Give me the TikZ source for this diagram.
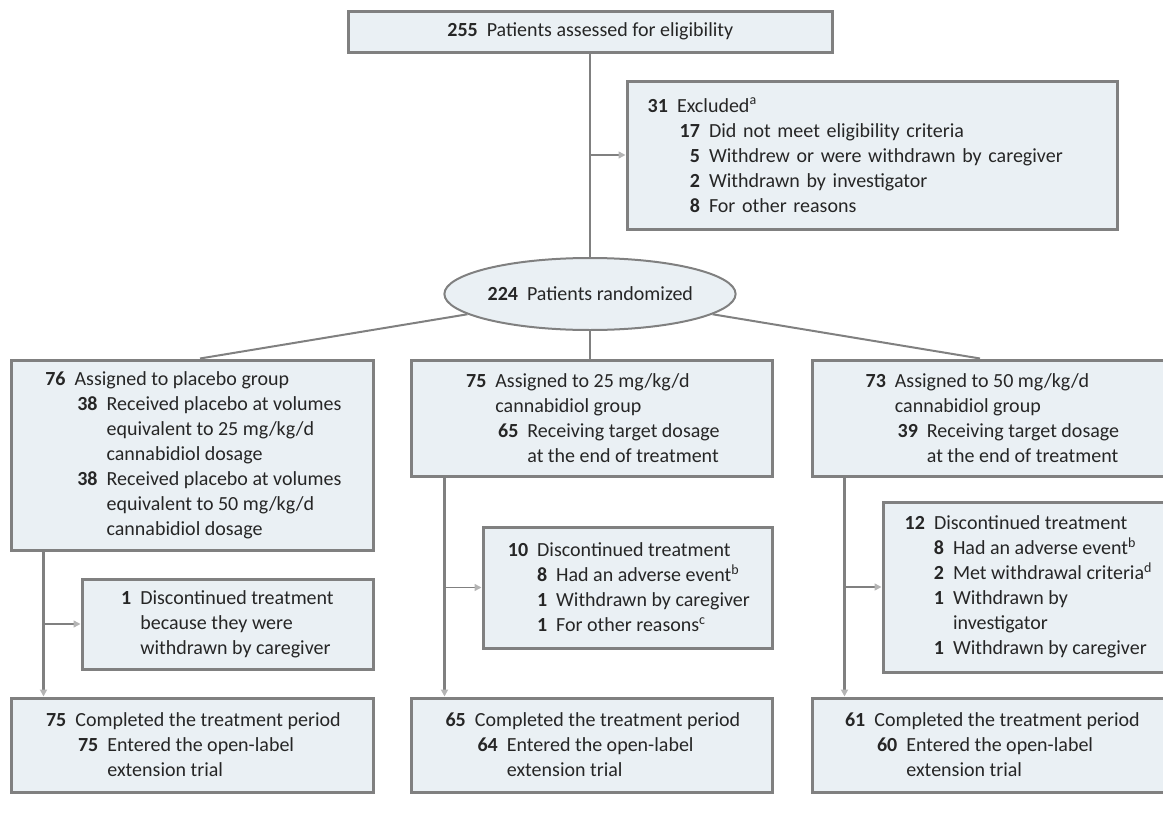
\documentclass[tikz,border=0pt]{standalone}
\usepackage{fontspec}
\setmainfont{Carlito}
\usetikzlibrary{arrows.meta, shapes.geometric}

\definecolor{boxfill}{HTML}{EAF0F4}
\definecolor{boxline}{HTML}{808080}
\definecolor{tipgray}{HTML}{B4B4B4}

% count column, then the entry text
\newcommand{\nm}[2][1.15em]{\makebox[#1][r]{\bfseries #2}\hspace{0.45em}}
\newcommand{\sub}{\hspace*{1.6em}}

\begin{document}
\begin{tikzpicture}[
            x = 1pt, y = -1pt,
            stepbox/.style = {
                rectangle,
                draw       = boxline,
                line width = 3pt,
                fill       = boxfill,
                align      = left,
                text       = black!85,
                font       = \fontsize{20}{25}\selectfont,
                inner sep  = 0pt
            },
            link/.style = {draw = boxline, line width = 2.5pt},
            flow/.style = {link, -{Triangle[length=7pt, width=7pt, color=tipgray]}},
            side/.style = {draw = boxline, line width = 1.5pt,
                           -{Triangle[length=7pt, width=7pt, color=tipgray]}}
        ]

            \useasboundingbox (0,0) rectangle (1163,814);

            \node[stepbox, align = center, minimum width = 484pt, minimum height = 41pt]
                (elig) at (590,31.5) {\nm[1.55em]{255}Patients assessed for eligibility};
            \node[stepbox, text width = 454pt, inner xsep = 18pt, minimum height = 148pt]
                (excl) at (872,155) {
                \nm{31}Excluded\textsuperscript{a}\\
                \sub\nm{17}Did not meet eligibility criteria\\
                \sub\nm{5}Withdrew or were withdrawn by caregiver\\
                \sub\nm{2}Withdrawn by investigator\\
                \sub\nm{8}For other reasons
            };
            \node[stepbox, ellipse, line width = 2pt, minimum width = 283pt, minimum height = 72pt]
                (rand) at (590,294) {\nm[1.55em]{224}Patients randomized};

            % treatment arms
            \node[stepbox, minimum width = 362pt, minimum height = 190pt] (plac) at (192,455) {
                \nm{76}Assigned to placebo group\\
                \sub\nm{38}Received placebo at volumes\\
                \sub\sub equivalent to 25 mg/kg/d\\
                \sub\sub cannabidiol dosage\\
                \sub\nm{38}Received placebo at volumes\\
                \sub\sub equivalent to 50 mg/kg/d\\
                \sub\sub cannabidiol dosage
            };
            \node[stepbox, minimum width = 361pt, minimum height = 116pt] (low) at (591.5,418) {
                \nm{75}Assigned to 25 mg/kg/d\\
                \sub cannabidiol group\\
                \sub\nm{65}Receiving target dosage\\
                \sub\sub at the end of treatment
            };
            \node[stepbox, minimum width = 358pt, minimum height = 116pt] (high) at (991,418) {
                \nm{73}Assigned to 50 mg/kg/d\\
                \sub cannabidiol group\\
                \sub\nm{39}Receiving target dosage\\
                \sub\sub at the end of treatment
            };

            % discontinued
            \node[stepbox, minimum width = 291pt, minimum height = 90pt] (dplac) at (227.5,624) {
                \nm[0.5em]{1}Discontinued treatment\\
                \hspace*{0.95em}because they were\\
                \hspace*{0.95em}withdrawn by caregiver
            };
            \node[stepbox, minimum width = 289pt, minimum height = 121pt] (dlow) at (627.5,587.5) {
                \nm{10}Discontinued treatment\\
                \sub\nm[0.5em]{8}Had an adverse event\textsuperscript{b}\\
                \sub\nm[0.5em]{1}Withdrawn by caregiver\\
                \sub\nm[0.5em]{1}For other reasons\textsuperscript{c}
            };
            \node[stepbox, minimum width = 288pt, minimum height = 170pt] (dhigh) at (1027,587) {
                \nm{12}Discontinued treatment\\
                \sub\nm[0.5em]{8}Had an adverse event\textsuperscript{b}\\
                \sub\nm[0.5em]{2}Met withdrawal criteria\textsuperscript{d}\\
                \sub\nm[0.5em]{1}Withdrawn by\\
                \sub\hspace*{0.95em}investigator\\
                \sub\nm[0.5em]{1}Withdrawn by caregiver
            };

            % completed
            \node[stepbox, minimum width = 362pt, minimum height = 94pt] (cplac) at (192,745) {
                \nm{75}Completed the treatment period\\
                \sub\nm{75}Entered the open-label\\
                \sub\sub extension trial
            };
            \node[stepbox, minimum width = 361pt, minimum height = 94pt] (clow) at (591.5,745) {
                \nm{65}Completed the treatment period\\
                \sub\nm{64}Entered the open-label\\
                \sub\sub extension trial
            };
            \node[stepbox, minimum width = 358pt, minimum height = 94pt] (chigh) at (991,745) {
                \nm{61}Completed the treatment period\\
                \sub\nm{60}Entered the open-label\\
                \sub\sub extension trial
            };

            \draw[link] (elig) -- (rand);
            \draw[side] (elig.south |- excl.west) -- (excl.west);

            \draw[link, line width = 2pt] (rand) -- ([xshift=8pt]plac.north);
            \draw[link] (rand.south) -- (rand.south |- low.north);
            \draw[link, line width = 2pt] (rand) -- ([xshift=-11pt]high.north);

            \coordinate (placdrop) at ([xshift=34pt]plac.south west);
            \coordinate (lowdrop)  at ([xshift=35pt]low.south west);
            \coordinate (highdrop) at ([xshift=34pt]high.south west);

            \draw[flow] (placdrop) -- (placdrop |- cplac.north);
            \draw[flow] (lowdrop)  -- (lowdrop |- clow.north);
            \draw[flow] (highdrop) -- (highdrop |- chigh.north);

            \draw[side] (placdrop |- dplac.west) -- (dplac.west);
            \draw[side] (lowdrop |- dlow.west)   -- (dlow.west);
            \draw[side] (highdrop |- dhigh.west) -- (dhigh.west);
        \end{tikzpicture}
\end{document}
